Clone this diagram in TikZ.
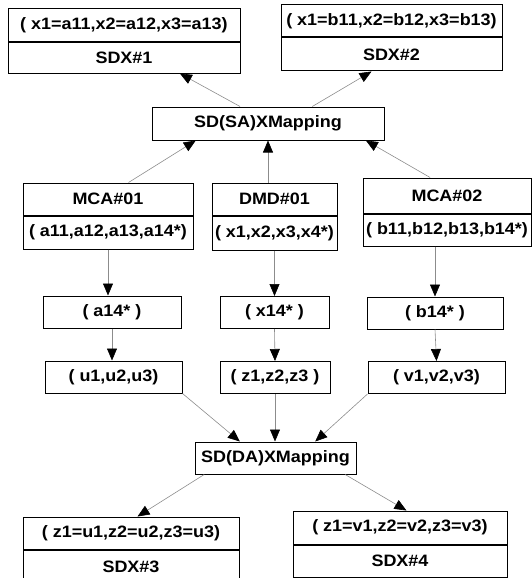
\documentclass[tikz,border=0pt]{standalone}
\usepackage{fontspec}
\setmainfont{Liberation Sans}[FakeStretch=1.09]
\usetikzlibrary{arrows.meta, positioning, calc}
\definecolor{LineGray}{rgb}{0.55, 0.55, 0.55}

\begin{document}
\begin{tikzpicture}[
    x=1pt, y=-1pt,
    font=\bfseries\fontsize{16.5}{19}\selectfont,
    box/.style={draw=black, line width=1pt, fill=white, inner sep=0pt,
        align=center, minimum height=32pt},
    link/.style={draw=LineGray, line width=0.6pt,
        -{Triangle[length=12pt, width=10pt, color=black]}},
]
\useasboundingbox (0,0) rectangle (532,578);

% resultados SDX
\node[box, minimum width=232pt, minimum height=33pt] (sdx1t) at (124,25.5) {( x1=a11,x2=a12,x3=a13)};
\node[box, minimum width=232pt, minimum height=30pt, below=0pt of sdx1t] (sdx1b) {SDX\#1};
\node[box, minimum width=221pt] (sdx2t) at (391.5,21) {( x1=b11,x2=b12,x3=b13)};
\node[box, minimum width=221pt, minimum height=33pt, below=0pt of sdx2t] (sdx2b) {SDX\#2};

\node[box, minimum width=232pt, minimum height=33pt] (sa) at (268,123.5) {SD(SA)XMapping};

% fuentes
\node[box, minimum width=170pt] (mca1t) at (108,199) {MCA\#01};
\node[box, minimum width=170pt, minimum height=33pt, below=0pt of mca1t] (mca1b) {( a11,a12,a13,a14*)};
\node[box, minimum width=125pt] (dmdt) at (274.5,199) {DMD\#01};
\node[box, minimum width=125pt, minimum height=34pt, below=0pt of dmdt] (dmdb) {( x1,x2,x3,x4*)};
\node[box, minimum width=168pt, minimum height=35pt] (mca2t) at (447,195.5) {MCA\#02};
\node[box, minimum width=168pt, below=0pt of mca2t] (mca2b) {( b11,b12,b13,b14*)};

% atributos y variables
\foreach \n/\x/\y/\w/\lbl in {%
    ta/112/312/138/{( a14* )},
    tx/274.5/312.5/109/{( x14* )},
    tb/435/313/136/{( b14* )},
    ua/113.5/377/137/{( u1,u2,u3)},
    za/275/377.5/110/{( z1,z2,z3 )},
    va/436.5/377.5/137/{( v1,v2,v3)}%
}{
    \node[box, minimum width=\w pt] (\n) at (\x,\y) {\lbl};
}

\node[box, minimum width=161pt] (da) at (275.5,458) {SD(DA)XMapping};

\node[box, minimum width=216pt] (sdx3t) at (131,533) {( z1=u1,z2=u2,z3=u3)};
\node[box, minimum width=216pt, minimum height=34pt, below=0pt of sdx3t] (sdx3b) {SDX\#3};
\node[box, minimum width=214pt, minimum height=33pt] (sdx4t) at (400,527.5) {( z1=v1,z2=v2,z3=v3)};
\node[box, minimum width=214pt, below=0pt of sdx4t] (sdx4b) {SDX\#4};

% flechas superiores
\draw[link] ($(sa.north west)!0.38!(sa.north east)$) -- ($(sdx1b.south west)!0.74!(sdx1b.south east)$);
\draw[link] ($(sa.north west)!0.69!(sa.north east)$) -- ($(sdx2b.south west)!0.41!(sdx2b.south east)$);
\draw[link] ($(mca1t.north west)!0.62!(mca1t.north east)$) -- ($(sa.south west)!0.19!(sa.south east)$);
\draw[link] (dmdt.north -| sa.south) -- (sa.south);
\draw[link] ($(mca2t.north west)!0.40!(mca2t.north east)$) -- ($(sa.south west)!0.92!(sa.south east)$);

% columnas
\draw[link] (mca1b.south) -- (mca1b.south |- ta.north);
\draw[link] (ta.south) -- (ta.south |- ua.north);
\draw[link] (dmdb.south) -- (tx.north);
\draw[link] (tx.south) -- (za.north);
\draw[link] (tb.north |- mca2b.south) -- (tb.north);
\draw[link] (tb.south) -- (va.north);

% flechas inferiores
\draw[link] (ua.south east) -- ($(da.north west)!0.28!(da.north east)$);
\draw[link] (za.south) -- (za.south |- da.north);
\draw[link] (va.south west) -- ($(da.north west)!0.745!(da.north east)$);
\draw[link] ($(da.south west)!0.06!(da.south east)$) -- ($(sdx3t.north west)!0.53!(sdx3t.north east)$);
\draw[link] ($(da.south west)!0.93!(da.south east)$) -- ($(sdx4t.north west)!0.53!(sdx4t.north east)$);

\end{tikzpicture}
\end{document}
